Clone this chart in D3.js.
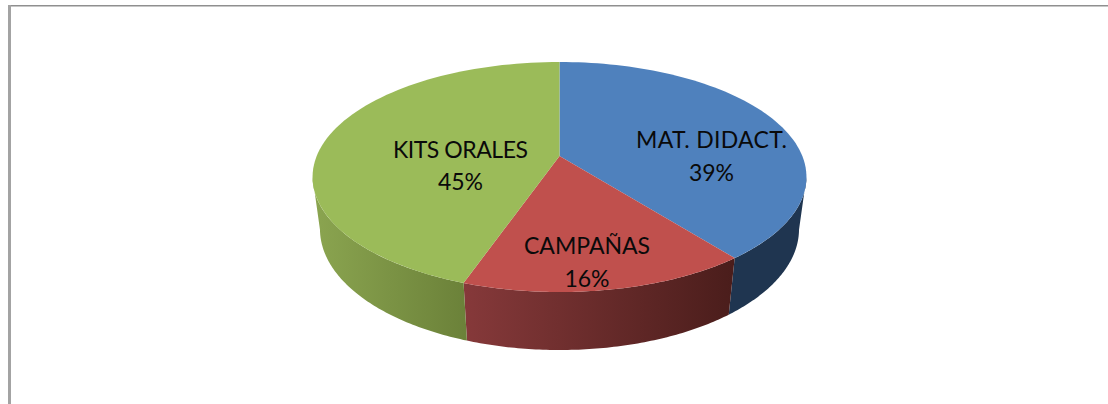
<!DOCTYPE html>
<html>
<head>
<meta charset="utf-8">
<script src="https://cdn.jsdelivr.net/npm/d3@7"></script>
<style>
    html, body { margin: 0; padding: 0; background: #fff; overflow: hidden; }
    text { font-family: Lato, "Open Sans", sans-serif; font-size: 23px; fill: #0a0a0a; text-anchor: middle; }
</style>
</head>
<body>
<svg id="gfx" width="1108" height="404"></svg>
<script>
const categories = ["MAT. DIDACT.", "CAMPAÑAS", "KITS ORALES"];
const percents = [39.4, 15.9, 44.7];

const topColors = ["#4f81bd", "#c0504d", "#9bbb59"];
const sideFrom = ["#1f3550", "#86393a", "#8ba550"];
const sideTo = ["#1f3550", "#4a1d1b", "#6b8139"];

const width = 1108, height = 404;

// Perspective of the disc: u,v on the unit circle, z = 0 top face, z = 1 bottom face
const view = { cx: 559.5, k: 242.8, a: 82.7, b: 156, c: -0.1826, d: 0.03, e: 57.9 };

function project(angle, r, z) {
    const u = r * Math.sin(angle);
    const v = -r * Math.cos(angle);
    const w = 1 + view.c * v + view.d * z;
    return [view.cx + view.k * u / w, (view.a * v + view.b + view.e * z) / w];
}

const svg = d3.select("#gfx").attr("viewBox", "0 0 " + width + " " + height);

// Frame lines left over from the original chart box
svg.append("rect").attr("x", 8).attr("y", 5).attr("width", width - 8).attr("height", 1.5).attr("fill", "#8f8f8f");
svg.append("rect").attr("x", 8).attr("y", 5).attr("width", 3).attr("height", height - 5).attr("fill", "#a3a3a3");

const pie = d3.pie().sort(null).value(d => d);
const arcs = pie(percents);
const line = d3.line();

// Rim is visible between the two points where the outline turns back
const rimStart = Math.acos(view.c);
const rimEnd = Math.PI * 2 - rimStart;

function sweep(start, end, z) {
    const steps = 80;
    return d3.range(steps + 1).map(i => project(start + (end - start) * i / steps, 1, z));
}

const defs = svg.append("defs");
const side = svg.append("g").attr("class", "side");
const face = svg.append("g").attr("class", "face");

arcs.forEach((d, i) => {
    const start = Math.max(d.startAngle, rimStart);
    const end = Math.min(d.endAngle, rimEnd);
    if (end > start) {
        const upper = sweep(start, end, 0);
        const lower = sweep(start, end, 1).reverse();
        const xs = d3.extent(upper.concat(lower), p => p[0]);
        const grad = defs.append("linearGradient")
            .attr("id", "side" + i)
            .attr("gradientUnits", "userSpaceOnUse")
            .attr("x1", xs[0]).attr("x2", xs[1]).attr("y1", 0).attr("y2", 0);
        grad.append("stop").attr("offset", 0).attr("stop-color", sideFrom[i]);
        grad.append("stop").attr("offset", 1).attr("stop-color", sideTo[i]);
        side.append("path")
            .attr("d", line(upper.concat(lower)) + "Z")
            .attr("fill", "url(#side" + i + ")");
    }
    const outline = [project(0, 0, 0)].concat(sweep(d.startAngle, d.endAngle, 0));
    face.append("path")
        .attr("d", line(outline) + "Z")
        .attr("fill", topColors[i]);
});

// Label centres and name widths as placed in the original
const labelX = [711.5, 587, 460.5];
const labelY = [148, 254, 157.5];
const labelWidth = [151, 126, 135];

const labels = svg.append("g").attr("class", "labels");
categories.forEach((name, i) => {
    labels.append("text")
        .attr("x", labelX[i])
        .attr("y", labelY[i])
        .attr("textLength", labelWidth[i])
        .text(name);
    labels.append("text")
        .attr("x", labelX[i])
        .attr("y", labelY[i] + 32.5)
        .text(Math.round(percents[i]) + "%");
});
</script>
</body>
</html>
